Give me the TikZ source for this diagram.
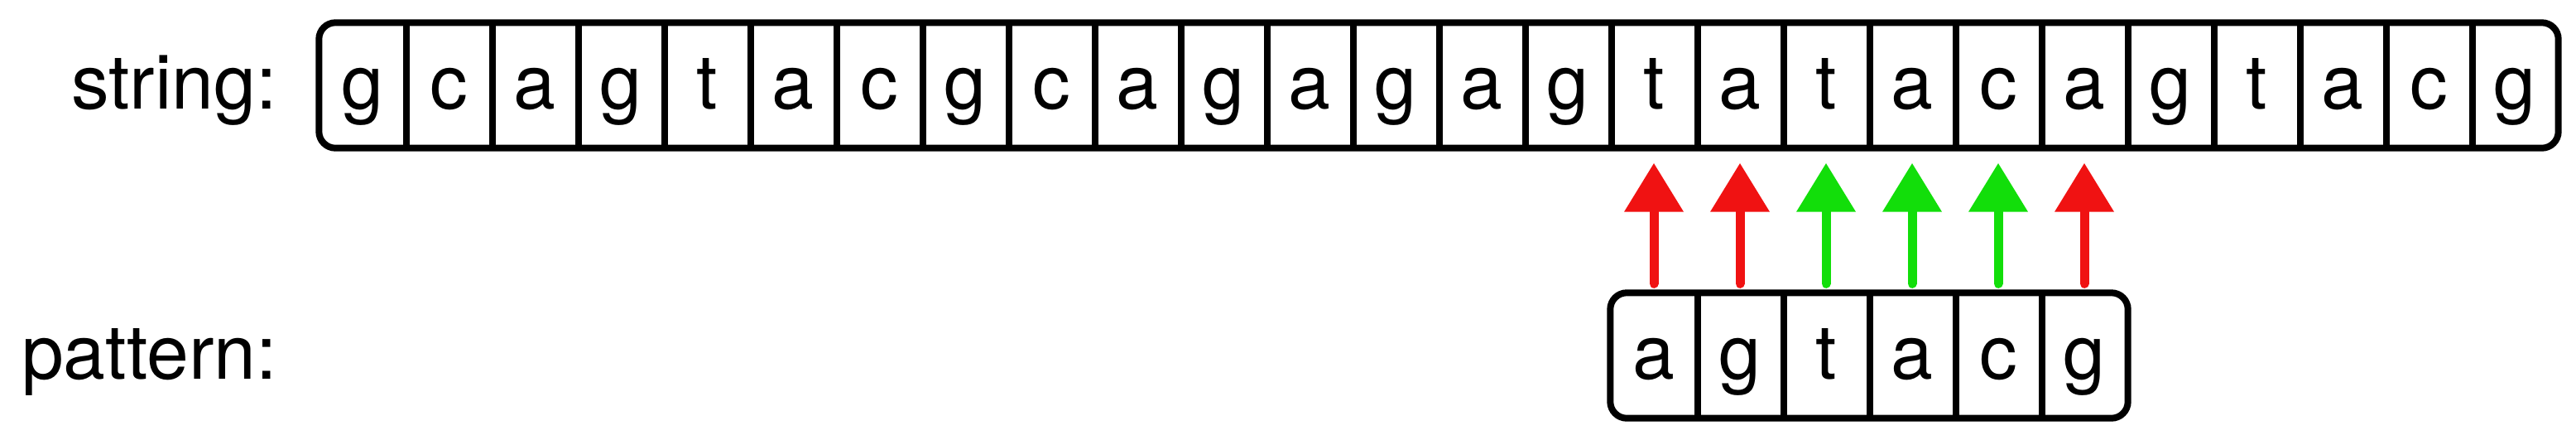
\documentclass[tikz,border=0pt]{standalone}
\usepackage{fontspec}
\setmainfont{TeX Gyre Heros}
\usetikzlibrary{positioning, arrows.meta}
\definecolor{mismatchColor}{RGB}{240,18,18}
\definecolor{matchColor}{RGB}{18,222,10}
\newcommand{\cellFont}{\fontsize{26}{30}\selectfont}
\newcommand{\cellWidth}{1.04}
\newcommand{\stringStart}{3.86}
\tikzstyle{cellStyle} = [minimum width = 1.04cm, minimum height = 1.5cm, inner sep = 0pt, text height = .56cm, text depth = 0cm, font = \cellFont]
\tikzstyle{frameStyle} = [line width = .08cm, rounded corners = .2cm]
\tikzstyle{dividerStyle} = [line width = .08cm]
\tikzstyle{labelStyle} = [font = \cellFont, inner sep = 0pt]
\tikzstyle{compareArrow} = [line width = .11cm, line cap = round, -{Triangle[length = .59cm, width = .69cm]}, shorten < = .11cm, shorten > = .18cm]
\tikzstyle{mismatchArrow} = [compareArrow, color = mismatchColor]
\tikzstyle{matchArrow} = [compareArrow, color = matchColor]
\newcommand{\cellRow}[5]{
  \foreach \letter [count = \i] in {#5} {
    \pgfmathsetmacro{\var}{\stringStart + (\i + #3 - .5) * \cellWidth}
    \node [cellStyle] (#1\i) at (\var, #4) {\letter};
  }
  \draw [frameStyle] (#11.south west) rectangle (#1#2.north east);
  \pgfmathtruncatemacro{\lastDivider}{#2 - 1}
  \foreach \i in {1,...,\lastDivider} {
    \draw [dividerStyle] (#1\i.north east) -- (#1\i.south east);
  }
}

\begin{document}
\begin{tikzpicture}
  \useasboundingbox (0,0) rectangle (31.12,5.36);
  \cellRow{s}{26}{0}{4.33}{g,c,a,g,t,a,c,g,c,a,g,a,g,a,g,t,a,t,a,c,a,g,t,a,c,g}
  \cellRow{p}{6}{15}{1.07}{a,g,t,a,c,g}

  \node [labelStyle, left = .5cm of s1.base west, anchor = base east] (stringLabel) {string:};
  \node [labelStyle, anchor = base east] (patternLabel) at (stringLabel.base east |- p1.base) {pattern:};

  \foreach \i/\kind in {1/mismatch, 2/mismatch, 3/match, 4/match, 5/match, 6/mismatch} {
    \pgfmathtruncatemacro{\j}{\i + 15}
    \draw [\kind Arrow] (p\i.north) -- (s\j.south);
  }
\end{tikzpicture}
\end{document}
